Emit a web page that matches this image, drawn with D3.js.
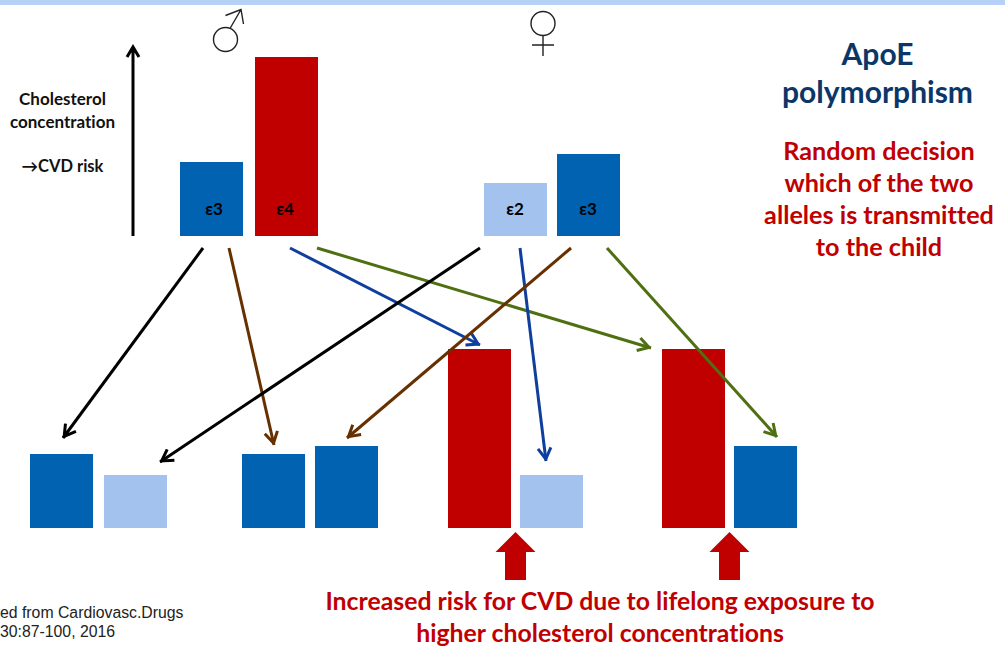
<!DOCTYPE html>
<html lang="en">
<head>
    <meta charset="UTF-8">
    <title>ApoE polymorphism</title>
    <script src="https://d3js.org/d3.v7.min.js"></script>
    <style>
        html, body { margin: 0; padding: 0; background: #fff; overflow: hidden; }
        svg { display: block; }
        text { font-variant-ligatures: none; }
    </style>
</head>
<body>
<script>
    const width  = 1005;
    const height = 649;

    // bars: allele and cholesterol level (arbitrary units)
    const parentIds     = ["m1", "m2", "f1", "f2"];
    const parentAlleles = ["ε3", "ε4", "ε2", "ε3"];
    const parentValues  = [74, 179, 53, 82];

    const childIds     = ["c1a", "c1b", "c2a", "c2b", "c3a", "c3b", "c4a", "c4b"];
    const childAlleles = ["ε3", "ε2", "ε3", "ε3", "ε4", "ε2", "ε4", "ε3"];
    const childValues  = [74, 53, 74, 82, 179, 53, 179, 82];

    const alleleNames  = ["ε2", "ε3", "ε4"];
    const alleleColors = ["#a4c2ee", "#0062b1", "#c00000"];

    const yLabelLines  = ["Cholesterol", "concentration", "", "→CVD risk"];
    const titleLines   = ["ApoE", "polymorphism"];
    const decisionLines = ["Random decision", "which of the two", "alleles is transmitted", "to the child"];
    const riskLines    = ["Increased risk for CVD due to lifelong exposure to", "higher cholesterol concentrations"];
    const sourceLines  = ["ed from Cardiovasc.Drugs", "30:87-100, 2016"];
    const riskTargets  = ["c3a", "c4a"];

    const arrowFrom  = ["m1", "m1", "m2", "m2", "f1", "f1", "f2", "f2"];
    const arrowTo    = ["c1a", "c2a", "c3a", "c4a", "c1b", "c3b", "c2b", "c4b"];

    // layout
    const barW = 63;
    const baseTop = 236;
    const baseBottom = 528;
    const parentX = d3.scaleOrdinal().domain(parentIds).range([180, 255, 484, 557]);
    const childX  = d3.scaleOrdinal().domain(childIds).range([30, 104, 242, 315, 448, 520, 662, 734]);
    const barH    = d3.scaleLinear().domain([0, 179]).range([0, 179]);
    const color   = d3.scaleOrdinal().domain(alleleNames).range(alleleColors);

    const arrowColor = d3.scaleOrdinal()
        .domain(["m1|c1a", "f1|c1b", "m1|c2a", "f2|c2b", "m2|c3a", "f1|c3b", "m2|c4a", "f2|c4b"])
        .range(["#000000", "#000000", "#663000", "#663000", "#0f3f9e", "#0f3f9e", "#4f7010", "#4f7010"]);
    // start x along y=248, end point near the child bar
    const arrowGeom = {
        "m1|c1a": [203, 248, 63, 438],
        "m1|c2a": [229, 248, 274, 445],
        "m2|c3a": [290, 248, 480, 345],
        "m2|c4a": [317, 248, 651, 348],
        "f1|c1b": [480, 248, 160, 462],
        "f1|c3b": [520, 248, 546, 461],
        "f2|c2b": [571, 248, 347, 438],
        "f2|c4b": [607, 248, 777, 437]
    };

    const svg = d3.select("body").append("svg").attr("width", width).attr("height", height);

    svg.append("rect").attr("width", width).attr("height", 5).attr("fill", "#b5d1f7");

    const parents = parentIds.map((id, i) => ({id, allele: parentAlleles[i], value: parentValues[i]}));
    const children = childIds.map((id, i) => ({id, allele: childAlleles[i], value: childValues[i]}));

    svg.selectAll("rect.parent").data(parents).join("rect")
        .attr("class", "parent")
        .attr("x", d => parentX(d.id))
        .attr("y", d => baseTop - barH(d.value))
        .attr("width", barW)
        .attr("height", d => barH(d.value))
        .attr("fill", d => color(d.allele));

    svg.selectAll("rect.child").data(children).join("rect")
        .attr("class", "child")
        .attr("x", d => childX(d.id))
        .attr("y", d => baseBottom - barH(d.value))
        .attr("width", barW)
        .attr("height", d => barH(d.value))
        .attr("fill", d => color(d.allele));

    const font = "Lato, 'Open Sans', sans-serif";

    svg.selectAll("text.allele").data(parents).join("text")
        .attr("class", "allele")
        .attr("x", d => parentX(d.id) + (d.id[0] === "m" ? (d.allele === "ε3" ? 34 : 30) : 31))
        .attr("y", 215)
        .attr("text-anchor", "middle")
        .attr("font-family", font)
        .attr("font-weight", 700)
        .attr("font-size", 17)
        .attr("fill", "#000")
        .text(d => d.allele);

    // arrowheads, one marker per colour
    const defs = svg.append("defs");
    const arrowColors = Array.from(new Set(arrowColor.range()));
    arrowColors.forEach((c, i) => {
        defs.append("marker")
            .attr("id", "head" + i)
            .attr("markerUnits", "userSpaceOnUse")
            .attr("viewBox", "-14 -8 16 16")
            .attr("markerWidth", 16)
            .attr("markerHeight", 16)
            .attr("refX", 2)
            .attr("refY", 0)
            .attr("orient", "auto")
            .append("path")
            .attr("d", "M-11,-6.5L0,0L-11,6.5")
            .attr("fill", "none")
            .attr("stroke", c)
            .attr("stroke-width", 3);
    });

    const links = arrowFrom.map((f, i) => f + "|" + arrowTo[i]);
    svg.selectAll("line.link").data(links).join("line")
        .attr("class", "link")
        .attr("x1", d => arrowGeom[d][0])
        .attr("y1", d => arrowGeom[d][1])
        .attr("x2", d => arrowGeom[d][2])
        .attr("y2", d => arrowGeom[d][3])
        .attr("stroke", d => arrowColor(d))
        .attr("stroke-width", 3)
        .attr("marker-end", d => "url(#head" + arrowColors.indexOf(arrowColor(d)) + ")");

    // vertical risk axis
    svg.append("path")
        .attr("d", "M133,236V47M127,57L133,47L139,57")
        .attr("fill", "none")
        .attr("stroke", "#000")
        .attr("stroke-width", 3);

    // sex symbols
    const sym = svg.append("g").attr("fill", "none").attr("stroke", "#222").attr("stroke-width", 1.4);
    sym.append("circle").attr("cx", 225.5).attr("cy", 39.5).attr("r", 12);
    sym.append("path").attr("d", "M230,28.5L241,9.5M225.5,15.5L241,9.5L243.5,24");
    sym.append("circle").attr("cx", 543).attr("cy", 23.5).attr("r", 12);
    sym.append("path").attr("d", "M543,35.5V56M532,45H554");

    function textBlock(lines, x, y, step, size, fill, weight, family, anchor) {
        svg.append("g").selectAll("text").data(lines).join("text")
            .attr("x", x)
            .attr("y", (d, i) => y + i * step)
            .attr("text-anchor", anchor)
            .attr("font-family", family)
            .attr("font-weight", weight)
            .attr("font-size", size)
            .attr("fill", fill)
            .text(d => d);
    }

    textBlock(yLabelLines.slice(0, 2), 62.5, 105, 23, 17, "#111", 700, font, "middle");
    textBlock(yLabelLines.slice(3), 62.5, 172, 23, 16.5, "#111", 700, font, "middle");
    textBlock(titleLines, 877.5, 65, 37.5, 30, "#0b3768", 700, font, "middle");
    textBlock(decisionLines, 879, 160, 32, 25.2, "#c00000", 700, font, "middle");
    textBlock(riskLines, 600, 610, 32, 24.8, "#c00000", 700, font, "middle");
    textBlock(sourceLines, 0, 618, 19, 15.8, "#222", 400, "'Liberation Sans', Arial, sans-serif", "start");

    // block arrows under the high-risk children
    svg.selectAll("path.risk").data(riskTargets).join("path")
        .attr("class", "risk")
        .attr("fill", "#c00000")
        .attr("transform", d => `translate(${childX(d) + barW + 4.5},${baseBottom + 4})`)
        .attr("d", "M0,0L20,20H10.5V48H-10.5V20H-20Z");
</script>
</body>
</html>
